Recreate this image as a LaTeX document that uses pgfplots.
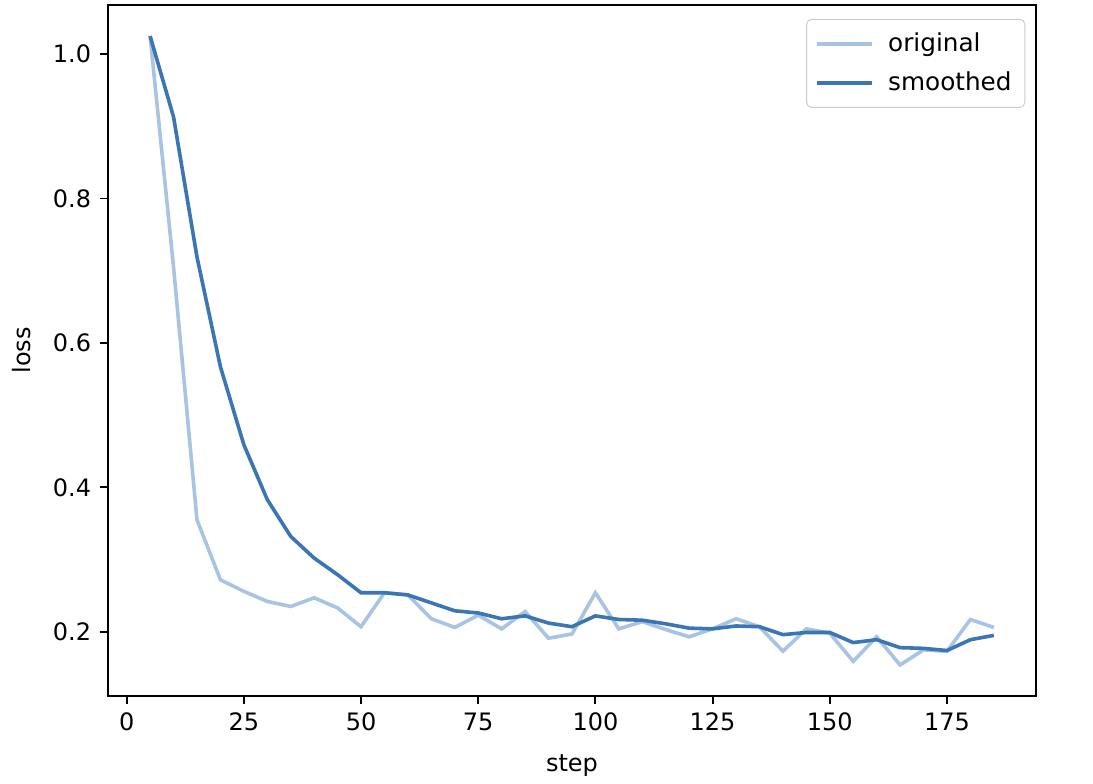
\documentclass[border=0pt]{standalone}
\usepackage{fontspec}
\setmainfont{DejaVu Sans}
\usepackage{pgfplots}
\pgfplotsset{compat=1.18}

\definecolor{smoothcol}{RGB}{58,117,180}
\definecolor{origcol}{RGB}{168,196,226}

\begin{document}
\begin{tikzpicture}
  \begin{axis}[name=ax,
      scale only axis,
      width=387pt, height=288pt,
      xmin=-4, xmax=194,
      ymin=0.1114, ymax=1.068,
      xtick={0,25,...,175},
      ytick={0.2,0.4,0.6,0.8,1.0},
      yticklabel style={/pgf/number format/.cd,fixed,fixed zerofill,precision=1},
      /pgf/number format/assume math mode=true,
      tick pos=left,
      tick align=outside,
      major tick length=3.5pt,
      axis line style={line width=0.8pt},
      every tick/.style={black,line width=0.8pt},
      tick label style={font=\fontsize{10}{12}\selectfont},
      label style={font=\fontsize{10}{12}\selectfont},
      xlabel={step},
      ylabel={loss},
      xlabel style={yshift=-3pt},
      ylabel style={yshift=2.5pt},
      legend cell align=left,
      legend style={at={(1,1)}, anchor=north east, xshift=-4.5pt, yshift=-5.8pt,
        draw=black!20, rounded corners=2pt, font=\fontsize{10.3}{12}\selectfont,
        inner xsep=3.5pt, inner ysep=3.5pt, row sep=3pt},
      legend image code/.code={\draw[#1] (0pt,0pt) -- (23pt,0pt); \path (27pt,0pt);},
    ]
    \addplot[origcol, line width=1.5pt] coordinates {
      (5,1.025) (10,0.705) (15,0.355) (20,0.272) (25,0.256) (30,0.242)
      (35,0.235) (40,0.247) (45,0.233) (50,0.207) (55,0.254) (60,0.251)
      (65,0.218) (70,0.206) (75,0.223) (80,0.204) (85,0.228) (90,0.191)
      (95,0.197) (100,0.254) (105,0.204) (110,0.214) (115,0.203) (120,0.193)
      (125,0.204) (130,0.218) (135,0.207) (140,0.173) (145,0.204) (150,0.198)
      (155,0.159) (160,0.193) (165,0.154) (170,0.175) (175,0.173) (180,0.217)
      (185,0.206)
    };
    \addlegendentry{original}
    \addplot[smoothcol, line width=1.5pt] coordinates {
      (5,1.025) (10,0.913) (15,0.719) (20,0.567) (25,0.459) (30,0.383)
      (35,0.332) (40,0.302) (45,0.279) (50,0.254) (55,0.254) (60,0.251)
      (65,0.240) (70,0.229) (75,0.226) (80,0.218) (85,0.222) (90,0.212)
      (95,0.207) (100,0.222) (105,0.217) (110,0.216) (115,0.211) (120,0.205)
      (125,0.204) (130,0.208) (135,0.207) (140,0.196) (145,0.199) (150,0.199)
      (155,0.185) (160,0.189) (165,0.178) (170,0.177) (175,0.174) (180,0.189)
      (185,0.195)
    };
    \addlegendentry{smoothed}
  \end{axis}
  \pgfresetboundingbox
  \path (ax.south west) ++(-45pt,-36.7pt) coordinate (bl);
  \path (ax.north east) ++(23.75pt,2.1pt) coordinate (tr);
  \useasboundingbox (bl) rectangle (tr);
\end{tikzpicture}
\end{document}
